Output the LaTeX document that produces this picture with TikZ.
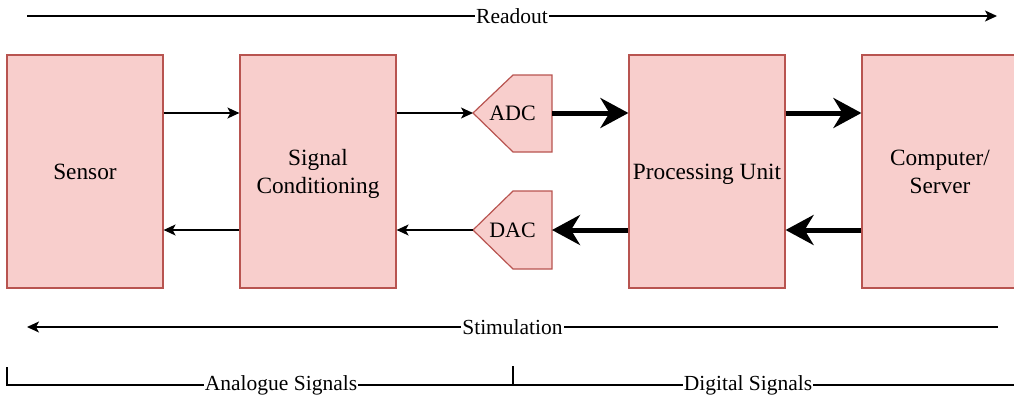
\documentclass[tikz,border=0pt]{standalone}
\usepackage{fontspec}
\setmainfont{Liberation Serif}
\usetikzlibrary{arrows.meta}
\definecolor{boxfill}{HTML}{F8CECC}
\definecolor{boxdraw}{HTML}{B85450}
\tikzset{
  blk/.style={draw=boxdraw, fill=boxfill, line width=1.2pt, minimum width=156pt, minimum height=233pt, align=center, font=\fontsize{23.3}{28}\selectfont, inner sep=0pt, text depth=0pt},
  conv/.style={draw=boxdraw, fill=boxfill, line width=1.2pt},
  convtxt/.style={font=\fontsize{22}{26}\selectfont, inner sep=0pt},
  thin/.style={line width=1.3pt, -{Stealth[length=12pt,width=11pt,inset=3pt]}},
  thick/.style={line width=5pt, -{Stealth[length=28pt,width=30pt,inset=9pt]}},
  plain/.style={line width=1.3pt},
  lbl/.style={fill=white, inner sep=1pt, font=\fontsize{21.5}{26}\selectfont},
}
\begin{document}
\begin{tikzpicture}[x=1pt,y=-1pt]
\useasboundingbox (0,0) rectangle (1014,400);
% blocks
\node[blk] (sensor) at (85,171.5) {Sensor};
\node[blk] (sc) at (318,171.5) {Signal\\Conditioning};
\node[blk] (pu) at (707,171.5) {Processing Unit};
\node[blk] (cs) at (940,171.5) {Computer/\\Server};
% ADC / DAC
\draw[conv] (473,113) -- (513,75) -- (552,75) -- (552,152) -- (513,152) -- cycle;
\node[convtxt] (adc) at (512.5,113) {ADC};
\coordinate (adcL) at (473,113);
\coordinate (adcR) at (552,113);
\draw[conv] (473,230) -- (513,191) -- (552,191) -- (552,269) -- (513,269) -- cycle;
\node[convtxt] (dac) at (512.5,230) {DAC};
\coordinate (dacL) at (473,230);
\coordinate (dacR) at (552,230);
% thin arrows
\draw[thin] (sensor.east |- adcL) -- (sc.west |- adcL);
\draw[thin] (sc.east |- adcL) -- (adcL);
\draw[thin] (sc.west |- dacL) -- (sensor.east |- dacL);
\draw[thin] (dacL) -- (sc.east |- dacL);
% thick arrows
\draw[thick] (adcR) -- (pu.west |- adcR);
\draw[thick] (pu.east |- adcR) -- (cs.west |- adcR);
\draw[thick] (pu.west |- dacR) -- (dacR);
\draw[thick] (cs.west |- dacR) -- (pu.east |- dacR);
% readout / stimulation
\coordinate (r0) at (27,16);
\coordinate (r1) at (997,16);
\draw[thin] (r0) -- node[lbl] (readout) {Readout} (r1);
\coordinate (s0) at (998,327);
\coordinate (s1) at (27,327);
\draw[thin] (s0) -- node[lbl] (stim) {Stimulation} (s1);
% bottom bracket
\coordinate (b0) at (7,367);
\coordinate (b1) at (7,385);
\coordinate (bm0) at (513,366);
\coordinate (bm1) at (513,385);
\coordinate (b2) at (1014,385);
\draw[plain] (b0) -- (b1) -- (b2);
\draw[plain] (bm0) -- (bm1);
\node[lbl] (ana) at (281,385) {Analogue Signals};
\node[lbl] (dig) at (748,385) {Digital Signals};
\end{tikzpicture}
\end{document}
